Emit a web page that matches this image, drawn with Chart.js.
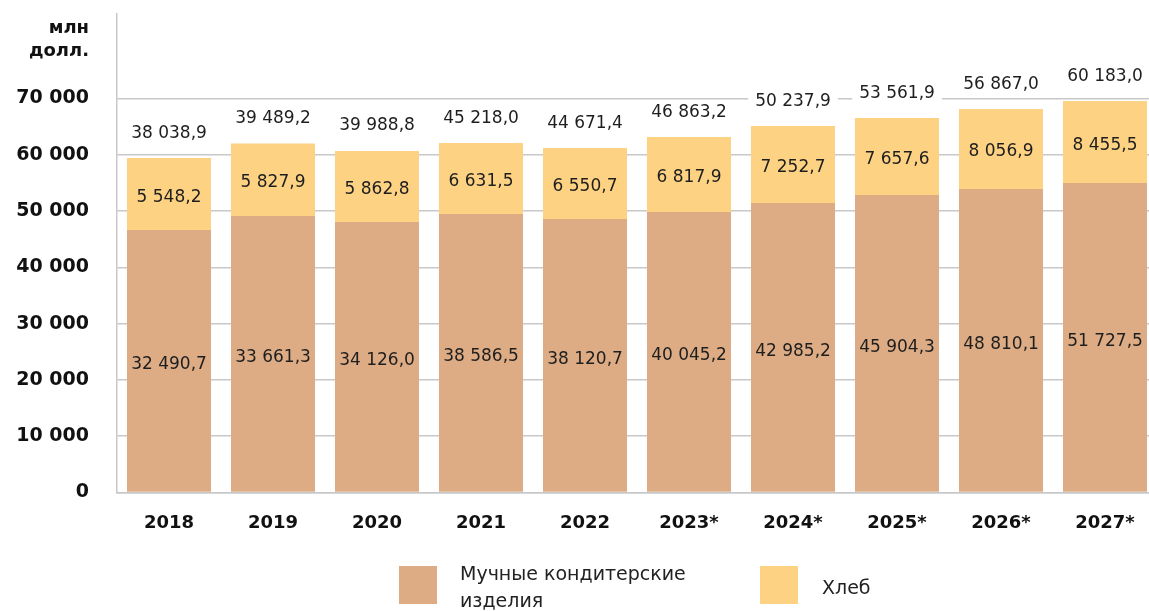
<!DOCTYPE html>
<html>
<head>
<meta charset="utf-8">
<script src="https://cdn.jsdelivr.net/npm/chart.js@4"></script>
<style>
html,body{margin:0;padding:0;background:#fff;overflow:hidden;}
#wrap{width:1157px;height:611px;position:relative;}
</style>
</head>
<body>
<div id="wrap"><canvas id="c"></canvas></div>
<script>
const years = ['2018','2019','2020','2021','2022','2023*','2024*','2025*','2026*','2027*'];
const muchBarHeights  = [46620, 49100, 48040, 49460, 48570, 49810, 51410, 52830, 53900, 54960];
const breadBarHeights = [12780, 12910, 12610, 12610, 12610, 13320, 13680, 13680, 14210, 14570];
const muchLabels  = ['32 490,7','33 661,3','34 126,0','38 586,5','38 120,7','40 045,2','42 985,2','45 904,3','48 810,1','51 727,5'];
const breadLabels = ['5 548,2','5 827,9','5 862,8','6 631,5','6 550,7','6 817,9','7 252,7','7 657,6','8 056,9','8 455,5'];
const totalLabels = ['38 038,9','39 489,2','39 988,8','45 218,0','44 671,4','46 863,2','50 237,9','53 561,9','56 867,0','60 183,0'];
const yTickValues = [0, 10000, 20000, 30000, 40000, 50000, 60000, 70000];
const yTickLabels = ['0','10 000','20 000','30 000','40 000','50 000','60 000','70 000'];
const seriesNames = ['Мучные кондитерские изделия', 'Хлеб'];
const unitLines = ['млн', 'долл.'];

const FONT = '"DejaVu Sans", sans-serif';
const BROWN = '#DDAC85';
const YELLOW = '#FDD282';
const GRID = '#C8C8C8';

const labelPlugin = {
  id: 'labels',
  afterDatasetsDraw(chart){
    const ctx = chart.ctx;
    const m0 = chart.getDatasetMeta(0), m1 = chart.getDatasetMeta(1);
    ctx.save();
    ctx.font = '17px ' + FONT;
    ctx.textAlign = 'center';
    ctx.textBaseline = 'middle';
    ctx.fillStyle = '#1e1e1e';
    m0.data.forEach((b, i) => {
      ctx.fillText(muchLabels[i], b.x, (b.y + b.base) / 2 + 4);
    });
    m1.data.forEach((b, i) => {
      ctx.fillStyle = '#1e1e1e';
      ctx.fillText(breadLabels[i], b.x, (b.y + b.base) / 2 + 3);
      const ty = b.y - 25;
      const w = ctx.measureText(totalLabels[i]).width + 14;
      ctx.fillStyle = '#fff';
      ctx.fillRect(b.x - w / 2, ty - 11, w, 22);
      ctx.fillStyle = '#1e1e1e';
      ctx.fillText(totalLabels[i], b.x, ty);
    });
    ctx.restore();
  }
};

const decorPlugin = {
  id: 'decor',
  afterDraw(chart){
    const ctx = chart.ctx;
    ctx.save();
    ctx.font = 'bold 18px ' + FONT;
    ctx.fillStyle = '#111';
    ctx.textAlign = 'right';
    ctx.textBaseline = 'middle';
    ctx.fillText(unitLines[0], 89, 28);
    ctx.fillText(unitLines[1], 89, 51);
    ctx.fillStyle = BROWN;
    ctx.fillRect(399, 566, 38, 38);
    ctx.fillStyle = YELLOW;
    ctx.fillRect(760, 566, 38, 38);
    ctx.font = '19px ' + FONT;
    ctx.fillStyle = '#222';
    ctx.textAlign = 'left';
    const parts = seriesNames[0].split(' ');
    ctx.fillText(parts[0] + ' ' + parts[1], 460, 575);
    ctx.fillText(parts[2], 460, 602);
    ctx.fillText(seriesNames[1], 822, 589);
    ctx.restore();
  }
};

new Chart(document.getElementById('c'), {
  type: 'bar',
  data: {
    labels: years,
    datasets: [
      { label: seriesNames[0], data: muchBarHeights, backgroundColor: BROWN, barPercentage: 0.808, categoryPercentage: 1 },
      { label: seriesNames[1], data: breadBarHeights, backgroundColor: YELLOW, barPercentage: 0.808, categoryPercentage: 1 }
    ]
  },
  options: {
    responsive: true,
    maintainAspectRatio: false,
    animation: false,
    layout: { padding: { top: 14, left: 0, right: 0, bottom: 0 } },
    plugins: { legend: { display: false }, tooltip: { enabled: false } },
    scales: {
      x: {
        stacked: true,
        grid: { display: false, drawTicks: false },
        border: { color: GRID, width: 1.5 },
        ticks: { color: '#111', font: { family: FONT, size: 18, weight: 'bold' }, padding: 20, maxRotation: 0 },
        afterFit(s){ s.height = 118.5; s.paddingLeft = 0; s.paddingRight = 0; }
      },
      y: {
        stacked: true,
        min: 0, max: 85000,
        grid: { color: GRID, lineWidth: 1.5, drawTicks: false },
        border: { color: GRID, width: 1.5 },
        ticks: { color: '#111', font: { family: FONT, size: 19, weight: 'bold' }, padding: 28,
                 callback: (v) => yTickLabels[yTickValues.indexOf(v)] },
        afterBuildTicks(s){ s.ticks = yTickValues.map(v => ({ value: v })); },
        afterFit(s){ s.width = 117; s.paddingTop = 0; s.paddingBottom = 0; }
      }
    }
  },
  plugins: [labelPlugin, decorPlugin]
});
</script>
</body>
</html>
